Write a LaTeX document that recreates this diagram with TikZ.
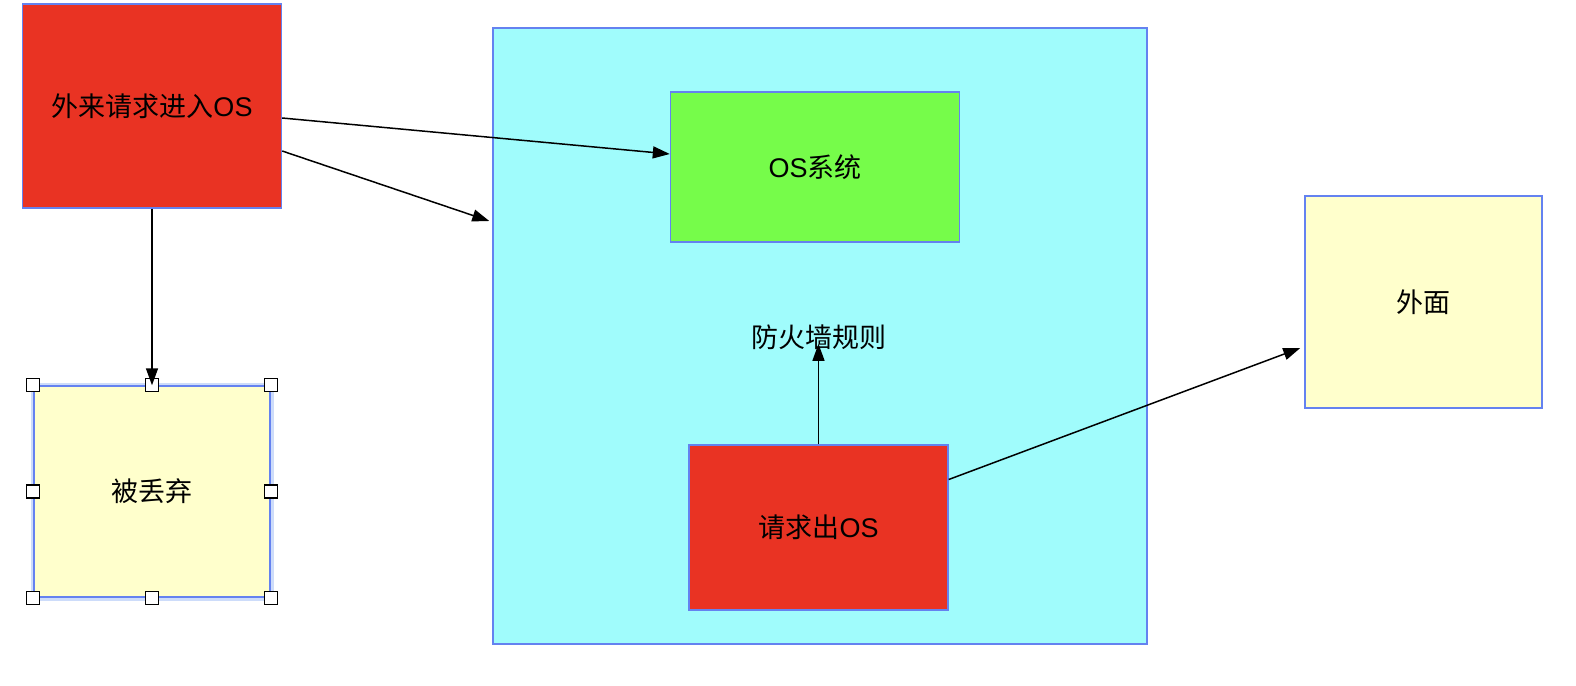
\documentclass[tikz,border=0pt]{standalone}
\usepackage{fontspec}
\setmainfont{Liberation Sans}
\newfontfamily\cjk{Noto Sans CJK SC}
\usetikzlibrary{arrows.meta}
\definecolor{boxred}{RGB}{233,51,35}
\definecolor{boxgreen}{RGB}{118,252,74}
\definecolor{boxcyan}{RGB}{160,252,252}
\definecolor{boxyellow}{RGB}{255,255,204}
\definecolor{boxline}{RGB}{100,130,240}
\definecolor{halo}{RGB}{205,220,250}
\tikzset{
  box/.style={draw=boxline, line width=0.7pt, inner sep=0pt, font=\fontsize{13.5}{16}\selectfont},
  handle/.style={draw=black, fill=white, line width=0.6pt, minimum size=6.5pt, inner sep=0pt},
}
\begin{document}
\begin{tikzpicture}[x=0.5pt, y=-0.5pt, >={Triangle[length=8.5pt,width=6pt]}]
    \useasboundingbox (0, 0) rectangle (1576, 686);

    \node[box, fill=boxcyan, minimum width=327pt, minimum height=308pt] (wall) at (820, 336) {};
    \node[box, fill=boxred, minimum width=129.5pt, minimum height=102pt] (in) at (152, 106) {{\cjk 外来请求进入}OS};
    \node[box, fill=boxgreen, minimum width=144.5pt, minimum height=75pt] (os) at (815, 167) {OS{\cjk 系统}};
    \node[font=\fontsize{13.5}{16}\selectfont, inner sep=0pt] (rule) at (818.5, 337) {\cjk 防火墙规则};
    \node[box, fill=boxred, minimum width=129.5pt, minimum height=82.5pt] (out) at (818.5, 527.5) {{\cjk 请求出}OS};
    \node[box, fill=boxyellow, minimum width=118.5pt, minimum height=106pt] (outside) at (1423.5, 302) {\cjk 外面};

    % selected box with its handles
    \draw[halo, line width=3.5pt] (34, 386) rectangle (270, 597);
    \node[box, fill=boxyellow, minimum width=118pt, minimum height=105.5pt] (drop) at (152, 491.5) {\cjk 被丢弃};
    \foreach \a in {north west, north, north east, east, south east, south, south west, west}
      \node[handle] at (drop.\a) {};

    \draw[->, line width=0.75pt] ([yshift=-6pt]in.east) -- ([yshift=6.5pt]os.west);
    \draw[->, line width=0.75pt] ([yshift=-22.5pt]in.east) -- ([xshift=-1.5pt, yshift=57.5pt]wall.west);
    \draw[->, line width=0.75pt] (in.south) -- (drop.north);
    \draw[->, line width=0.75pt] (out.north) -- ([yshift=3pt]rule.south);
    \draw[->, line width=0.75pt] ([yshift=24pt]out.east) -- ([xshift=-2pt, yshift=-23pt]outside.west);
  \end{tikzpicture}
\end{document}
